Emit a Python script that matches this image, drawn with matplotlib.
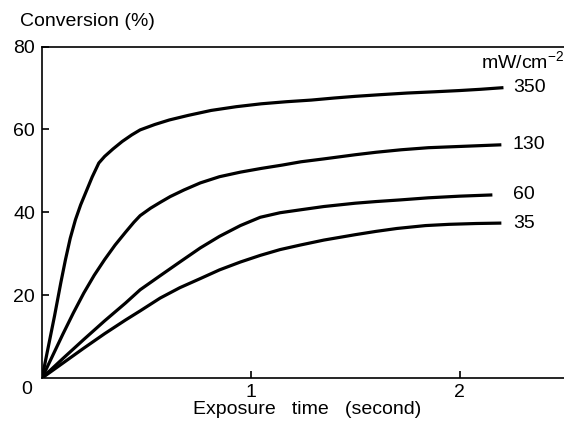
from matplotlib import pyplot as plt

plt.rcParams['font.family'] = ['Liberation Sans', 'DejaVu Sans']
plt.rcParams['mathtext.fontset'] = 'custom'
plt.rcParams['mathtext.rm'] = 'Liberation Sans'
plt.rcParams['mathtext.it'] = 'Liberation Sans'

# exposure time (s) vs conversion (%) for each light intensity
t_350 = [0, 0.03, 0.06, 0.09, 0.112, 0.135, 0.16, 0.185, 0.208, 0.24, 0.272, 0.30, 0.34, 0.384,
         0.43, 0.47, 0.54, 0.61, 0.70, 0.81, 0.93, 1.05, 1.17, 1.29, 1.40, 1.50, 1.62, 1.75,
         1.88, 2.0, 2.1, 2.21]
c_350 = [0, 7.5, 15.0, 23.0, 28.5, 33.7, 38.2, 41.8, 44.6, 48.5, 51.9, 53.5, 55.3, 57.1,
         58.7, 59.9, 61.2, 62.3, 63.4, 64.6, 65.5, 66.2, 66.7, 67.1, 67.6, 68.0, 68.4, 68.8,
         69.1, 69.4, 69.7, 70.1]

t_130 = [0, 0.05, 0.10, 0.15, 0.20, 0.25, 0.30, 0.35, 0.40, 0.44, 0.47, 0.52, 0.566, 0.614,
         0.68, 0.758, 0.85, 0.95, 1.05, 1.15, 1.24, 1.35, 1.5, 1.6, 1.72, 1.85, 2.0, 2.1, 2.2]
c_130 = [0, 5.3, 10.6, 15.7, 20.5, 24.8, 28.6, 32.1, 35.2, 37.6, 39.2, 41.0, 42.4, 43.8,
         45.4, 47.1, 48.6, 49.7, 50.6, 51.4, 52.2, 52.9, 53.9, 54.5, 55.1, 55.6, 55.9, 56.1, 56.3]

t_60 = [0, 0.1, 0.2, 0.3, 0.4, 0.47, 0.566, 0.66, 0.758, 0.85, 0.95, 1.045, 1.14, 1.237,
        1.35, 1.5, 1.6, 1.717, 1.85, 2.0, 2.157]
c_60 = [0, 4.7, 9.3, 13.8, 18.1, 21.3, 24.7, 28.0, 31.4, 34.2, 36.8, 38.8, 39.9, 40.6,
        41.4, 42.2, 42.6, 43.0, 43.5, 43.9, 44.2]

t_35 = [0, 0.1, 0.2, 0.3, 0.4, 0.47, 0.566, 0.66, 0.758, 0.85, 0.95, 1.045, 1.14, 1.237,
        1.35, 1.5, 1.6, 1.7, 1.837, 1.95, 2.08, 2.2]
c_35 = [0, 3.6, 7.2, 10.7, 14.0, 16.2, 19.3, 21.8, 24.0, 26.1, 28.0, 29.6, 31.0, 32.1,
        33.3, 34.6, 35.4, 36.1, 36.8, 37.1, 37.3, 37.4]

curves = [(t_350, c_350, '350'), (t_130, c_130, '130'), (t_60, c_60, '60'), (t_35, c_35, '35')]

fig = plt.figure(figsize=(5.64, 4.24), dpi=100)
ax = fig.add_axes([0.0745, 0.1085, 0.9255, 0.7815])

for t, c, lab in curves:
    ax.plot(t, c, color='black', lw=2.3, solid_capstyle='butt', solid_joinstyle='round')
    ax.text(2.255, c[-1], lab, fontsize=14, ha='left', va='center', clip_on=False)

ax.set_xlim(0, 2.5)
ax.set_ylim(0, 80)
ax.spines['right'].set_visible(False)
for s in ['left', 'top', 'bottom']:
    ax.spines[s].set_linewidth(1.2)

ax.set_xticks([1, 2])
ax.set_yticks([20, 40, 60, 80])
ax.tick_params(direction='in', length=5, width=1.2, labelsize=14, pad=5)
ax.tick_params(axis='x', pad=4)

ax.text(-0.072, -2.7, '0', fontsize=14, ha='center', va='center', clip_on=False)
fig.text(306.7 / 564, 1 - 410 / 424, 'Exposure   time   (second)', fontsize=14,
         ha='center', va='center')
fig.text(20 / 564, 1 - 22 / 424, 'Conversion (%)', fontsize=14, ha='left', va='center')
ax.text(2.5, 74.8, 'mW/cm$^{-2}$', fontsize=14, ha='right', va='baseline', clip_on=False)

plt.savefig('out.png')
